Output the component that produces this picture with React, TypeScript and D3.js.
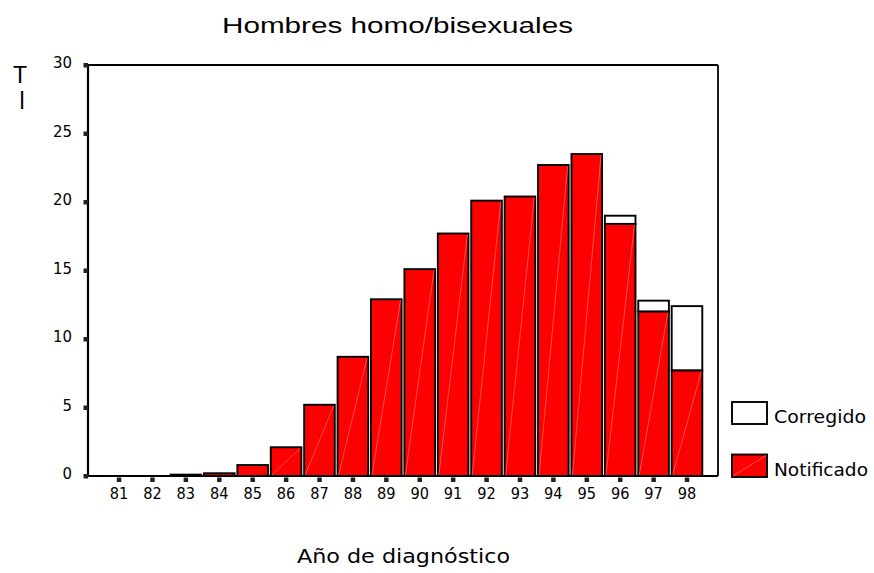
import React from "react";
import * as d3 from "d3";

const years = ["81","82","83","84","85","86","87","88","89","90","91","92","93","94","95","96","97","98"];
const notificado = [0, 0, 0.1, 0.2, 0.8, 2.1, 5.2, 8.7, 12.9, 15.1, 17.7, 20.1, 20.4, 22.7, 23.5, 18.4, 12.0, 7.7];
const corregido = [0, 0, 0.1, 0.2, 0.8, 2.1, 5.2, 8.7, 12.9, 15.1, 17.7, 20.1, 20.4, 22.7, 23.5, 19.0, 12.8, 12.4];
const yTicks = [0, 5, 10, 15, 20, 25, 30];
const title = "Hombres homo/bisexuales";
const xTitle = "Año de diagnóstico";
const legendLabels = ["Corregido", "Notificado"];

const W = 874, H = 573;
const left = 88, right = 718, top = 65, bottom = 476;

export default function App() {
  const x = d3.scaleBand<string>().domain(years).range([102.3, 703.7]).paddingInner(0.084).paddingOuter(0.042);
  const y = d3.scaleLinear().domain([0, 30]).range([bottom, top]);
  const bw = x.bandwidth();
  const font2 = "'DejaVu Sans', sans-serif";
  return (
    <svg width={W} height={H} style={{ position: "absolute", left: 0, top: 0, background: "#fff" }}>
      <text x={397.5} y={33} textAnchor="middle" fontFamily="'Liberation Sans', Arial, sans-serif" fontSize={22} textLength={351} lengthAdjust="spacingAndGlyphs">{title}</text>
      <text x={20} y={83} textAnchor="middle" fontFamily="'Liberation Sans', Arial, sans-serif" fontSize={23}>T</text>
      <text x={22} y={109} textAnchor="middle" fontFamily="'Liberation Sans', Arial, sans-serif" fontSize={23}>l</text>
      {years.map((yr, i) => {
        const x0 = x(yr)!;
        const n = notificado[i], c = corregido[i];
        const yn = y(n), yc = y(c);
        return (
          <g key={yr}>
            {c > n && (
              <rect x={x0} y={yc} width={bw} height={yn - yc} fill="#fff" stroke="#000" strokeWidth={1.9} />
            )}
            {n > 0 && (
              <rect x={x0} y={yn} width={bw} height={bottom - yn} fill="#ff0000" stroke="#000" strokeWidth={1.9} />
            )}
            {n > 1 && (
              <line x1={x0 + 1} y1={bottom - 1} x2={x0 + bw - 1} y2={yn + 1} stroke="#ff7070" strokeWidth={0.7} />
            )}
          </g>
        );
      })}
      <line x1={left} y1={top} x2={right} y2={top} stroke="#000" strokeWidth={1.8} />
      <line x1={right} y1={top} x2={right} y2={bottom} stroke="#000" strokeWidth={1.8} />
      <line x1={left} y1={top} x2={left} y2={bottom + 1} stroke="#000" strokeWidth={2.2} />
      <line x1={left} y1={bottom} x2={right} y2={bottom} stroke="#000" strokeWidth={2.2} />
      {yTicks.map((t) => (
        <g key={t}>
          <rect x={83.5} y={y(t) - 2} width={4.5} height={4.5} fill="#222" />
          <text x={72} y={y(t) + 3} textAnchor="end" fontFamily={font2} fontSize={16} textLength={t >= 10 ? 19 : 9.5} lengthAdjust="spacingAndGlyphs">{t}</text>
        </g>
      ))}
      {years.map((yr) => {
        const cx = x(yr)! + bw / 2;
        return (
          <g key={yr}>
            <rect x={cx - 2.2} y={477.5} width={4.5} height={4.5} fill="#222" />
            <text x={cx} y={499} textAnchor="middle" fontFamily={font2} fontSize={16} textLength={18.5} lengthAdjust="spacingAndGlyphs">{yr}</text>
          </g>
        );
      })}
      <text x={403.5} y={563} textAnchor="middle" fontFamily={font2} fontSize={20} textLength={213} lengthAdjust="spacingAndGlyphs">{xTitle}</text>
      <rect x={732} y={402} width={35} height={22} fill="#fff" stroke="#000" strokeWidth={1.9} />
      <text x={774} y={423} fontFamily={font2} fontSize={18} textLength={92} lengthAdjust="spacingAndGlyphs">{legendLabels[0]}</text>
      <rect x={732} y={454.5} width={35} height={22.5} fill="#ff0000" stroke="#000" strokeWidth={1.9} />
      <line x1={733} y1={476} x2={766} y2={455.5} stroke="#ff7070" strokeWidth={0.7} />
      <text x={774} y={476} fontFamily={font2} fontSize={18} textLength={94} lengthAdjust="spacingAndGlyphs">{legendLabels[1]}</text>
    </svg>
  );
}
